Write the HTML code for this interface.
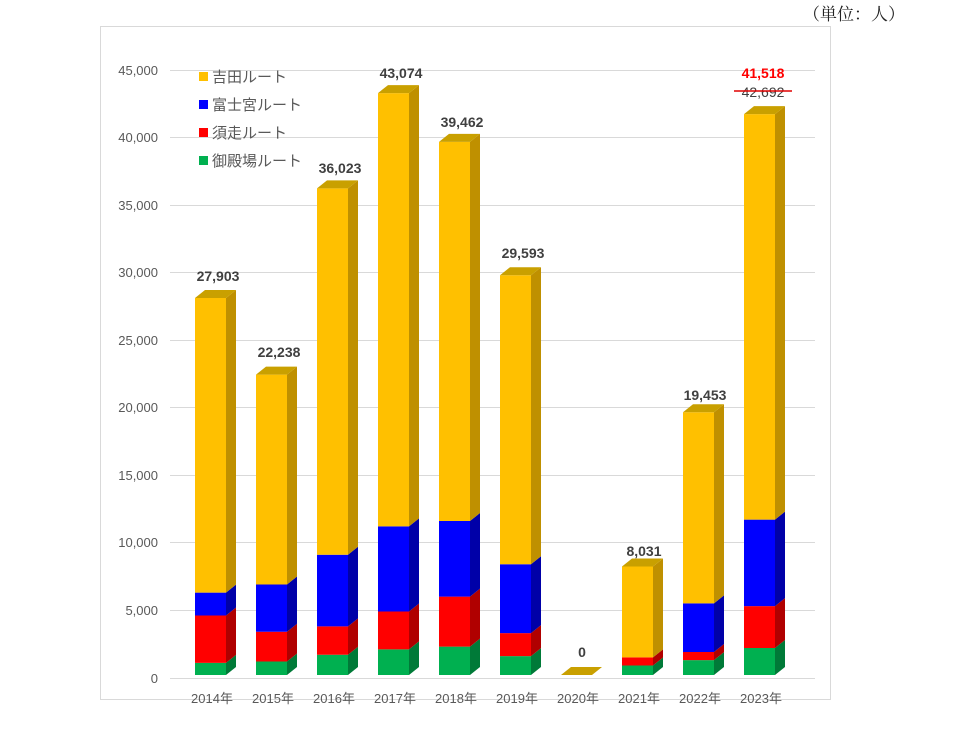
<!DOCTYPE html>
<html><head><meta charset="utf-8"><style>
body{margin:0;background:#fff;width:960px;height:749px;overflow:hidden;font-family:"Liberation Sans","Noto Sans CJK JP",sans-serif}
</style></head><body>
<svg id="s" width="960" height="749" xmlns="http://www.w3.org/2000/svg" font-family="Liberation Sans, Noto Sans CJK JP, sans-serif">
<text x="905" y="20" font-size="17" text-anchor="end" fill="#222" font-family="Liberation Serif, Noto Serif CJK SC, serif">（単位：人）</text>
<rect x="100.5" y="26.5" width="730" height="673" fill="none" stroke="#d9d9d9"/>
<g id="grid" stroke="#d9d9d9" stroke-width="1"></g>
<g font-size="13" fill="#595959" text-anchor="end">
<text x="158" y="75">45,000</text><text x="158" y="142">40,000</text><text x="158" y="210">35,000</text>
<text x="158" y="277">30,000</text><text x="158" y="345">25,000</text><text x="158" y="412">20,000</text>
<text x="158" y="480">15,000</text><text x="158" y="547">10,000</text><text x="158" y="615">5,000</text>
<text x="158" y="683">0</text></g>
<g id="bars"></g>
<g font-size="13" fill="#595959" text-anchor="middle">
<text x="212" y="703">2014年</text><text x="273" y="703">2015年</text><text x="334" y="703">2016年</text>
<text x="395" y="703">2017年</text><text x="456" y="703">2018年</text><text x="517" y="703">2019年</text>
<text x="578" y="703">2020年</text><text x="639" y="703">2021年</text><text x="700" y="703">2022年</text>
<text x="761" y="703">2023年</text></g>
<g font-size="14" font-weight="bold" fill="#404040" text-anchor="middle">
<text x="218" y="281">27,903</text><text x="279" y="357">22,238</text><text x="340" y="173">36,023</text>
<text x="401" y="78">43,074</text><text x="462" y="127">39,462</text><text x="523" y="258">29,593</text>
<text x="582" y="657">0</text><text x="644" y="556">8,031</text><text x="705" y="400">19,453</text>
<text x="763" y="78" fill="#ff0000">41,518</text></g>
<text x="763" y="97" font-size="14" fill="#404040" text-anchor="middle">42,692</text>
<line x1="734" y1="91" x2="792" y2="91" stroke="#e00000" stroke-width="1.5"/>
<g font-size="15" fill="#595959">
<rect x="199" y="72" width="9" height="9" fill="#FFC000"/><text x="212" y="82">吉田ルート</text>
<rect x="199" y="100" width="9" height="9" fill="#0000FF"/><text x="212" y="110">富士宮ルート</text>
<rect x="199" y="128" width="9" height="9" fill="#FF0000"/><text x="212" y="138">須走ルート</text>
<rect x="199" y="156" width="9" height="9" fill="#00B050"/><text x="212" y="166">御殿場ルート</text></g>
</svg>
<script>
var ns="http://www.w3.org/2000/svg";
var g=document.getElementById("grid");
[70,137,205,272,340,407,475,542,610,678].forEach(function(y){
 var l=document.createElementNS(ns,"line");l.setAttribute("x1",170);l.setAttribute("x2",815);
 l.setAttribute("y1",y+.5);l.setAttribute("y2",y+.5);g.appendChild(l);});
var data=[[900,3500,1700,27903],[1000,2200,3500,22238],[1500,2100,5300,36023],[1900,2800,6300,43074],
[2100,3700,5600,39462],[1400,1700,5100,29593],[0,0,0,0],[700,600,0,8031],[1100,600,3600,19453],[2000,3100,6400,41518]];
var cols=[["#00B050","#007A38","#00923F"],["#FF0000","#B00000","#D00000"],["#0000FF","#0000A8","#0000D0"],["#FFC000","#BF9000","#C9A000"]];
var B=675,k=0.01351,W=31,dx=10,dy=8;
var bars=document.getElementById("bars");
function poly(p,c){var e=document.createElementNS(ns,"polygon");e.setAttribute("points",p);e.setAttribute("fill",c);bars.appendChild(e);}
data.forEach(function(d,i){
 var x=195+i*61,cum=0;
 var segs=[d[0],d[1],d[2],d[3]-d[0]-d[1]-d[2]];
 for(var j=0;j<4;j++){
  var y0=B-cum*k;cum+=segs[j];var y1=B-cum*k;
  if(segs[j]<=0)continue;
  poly(x+","+y1+" "+(x+W)+","+y1+" "+(x+W)+","+y0+" "+x+","+y0,cols[j][0]);
  poly((x+W)+","+y1+" "+(x+W+dx)+","+(y1-dy)+" "+(x+W+dx)+","+(y0-dy)+" "+(x+W)+","+y0,cols[j][1]);
 }
 var yt=B-cum*k;
 poly(x+","+yt+" "+(x+W)+","+yt+" "+(x+W+dx)+","+(yt-dy)+" "+(x+dx)+","+(yt-dy),"#C9A000");
});
</script>
</body></html>
